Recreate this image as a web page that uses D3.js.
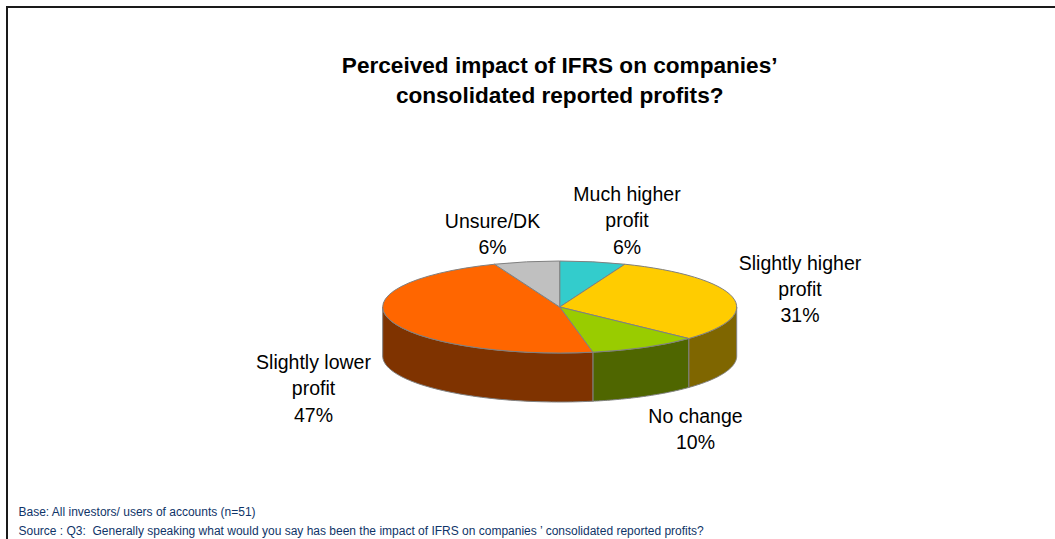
<!DOCTYPE html>
<html><head><meta charset="utf-8">
<script src="https://cdn.jsdelivr.net/npm/d3@7"></script>
<style>html,body{margin:0;padding:0;background:#fff;overflow:hidden}svg{display:block}text{font-family:"Liberation Sans",Arial,sans-serif;white-space:pre}</style>
</head><body><svg id="c" width="1055" height="539"></svg>
<script>
const categories=["Much higher profit","Slightly higher profit","No change","Slightly lower profit","Unsure/DK"];
const values=[6,31,10,47,6];
const topColors=["#33CCCC","#FFCC00","#99CC00","#FF6600","#C0C0C0"];
const sideColors=["#1A6666","#7F6600","#4F6600","#7F3300","#606060"];
const labelLines=[["Much higher","profit","6%"],["Slightly higher","profit","31%"],["No change","10%"],["Slightly lower","profit","47%"],["Unsure/DK","6%"]];
const labelPos=[[627,201],[800,269.5],[695.5,423],[313.5,369],[492.5,228]];
const titleLines=["Perceived impact of IFRS on companies’","consolidated reported profits?"];
const footLines=["Base: All investors/ users of accounts (n=51)","Source : Q3:  Generally speaking what would you say has been the impact of IFRS on companies ’ consolidated reported profits?"];

const svg=d3.select("#c");
const cx=559.7,cy=307,rx=177,ry=46,depth=49,edge="#808080";
// frame
svg.append("path").attr("d","M7 539V7H1055").attr("fill","none").attr("stroke","#1a1a1a").attr("stroke-width",2);

const arcs=d3.pie().sort(null).value(d=>d)(values);
const px=a=>cx+rx*Math.sin(a), py=a=>cy-ry*Math.cos(a);
// side walls: visible front half only
const g=svg.append("g");
arcs.forEach((d,i)=>{
  const a0=Math.max(d.startAngle,Math.PI/2),a1=Math.min(d.endAngle,3*Math.PI/2);
  if(a1<=a0)return;
  const p=d3.path();
  const steps=d3.range(0,61).map(k=>a0+(a1-a0)*k/60);
  steps.forEach((a,k)=>k?p.lineTo(px(a),py(a)):p.moveTo(px(a),py(a)));
  steps.slice().reverse().forEach(a=>p.lineTo(px(a),py(a)+depth));
  p.closePath();
  g.append("path").attr("d",p.toString()).attr("fill",sideColors[i]).attr("stroke",edge).attr("stroke-width",1).attr("stroke-linejoin","round");
});
// top faces
const arc=d3.arc().innerRadius(0).outerRadius(rx);
svg.append("g").attr("transform",`translate(${cx},${cy}) scale(1,${ry/rx})`)
 .selectAll("path").data(arcs).join("path")
 .attr("d",arc).attr("fill",(d,i)=>topColors[i])
 .attr("stroke",edge).attr("stroke-width",1).attr("vector-effect","non-scaling-stroke").attr("stroke-linejoin","round");

// labels
labelLines.forEach((lines,i)=>{
  const t=svg.append("text").attr("text-anchor","middle").attr("font-size",19.5).attr("fill","#000");
  lines.forEach((s,j)=>t.append("tspan").attr("x",labelPos[i][0]).attr("y",labelPos[i][1]+j*26.3).text(s));
});
// title
titleLines.forEach((s,j)=>svg.append("text").attr("x",559.7).attr("y",73+j*30).attr("text-anchor","middle")
  .attr("font-size",22.6).attr("font-weight","bold").attr("fill","#000").text(s));
// footer
footLines.forEach((s,j)=>svg.append("text").attr("x",18.5).attr("y",516+j*19).attr("font-size",12).attr("fill","#0F3468").text(s));
</script></body></html>
